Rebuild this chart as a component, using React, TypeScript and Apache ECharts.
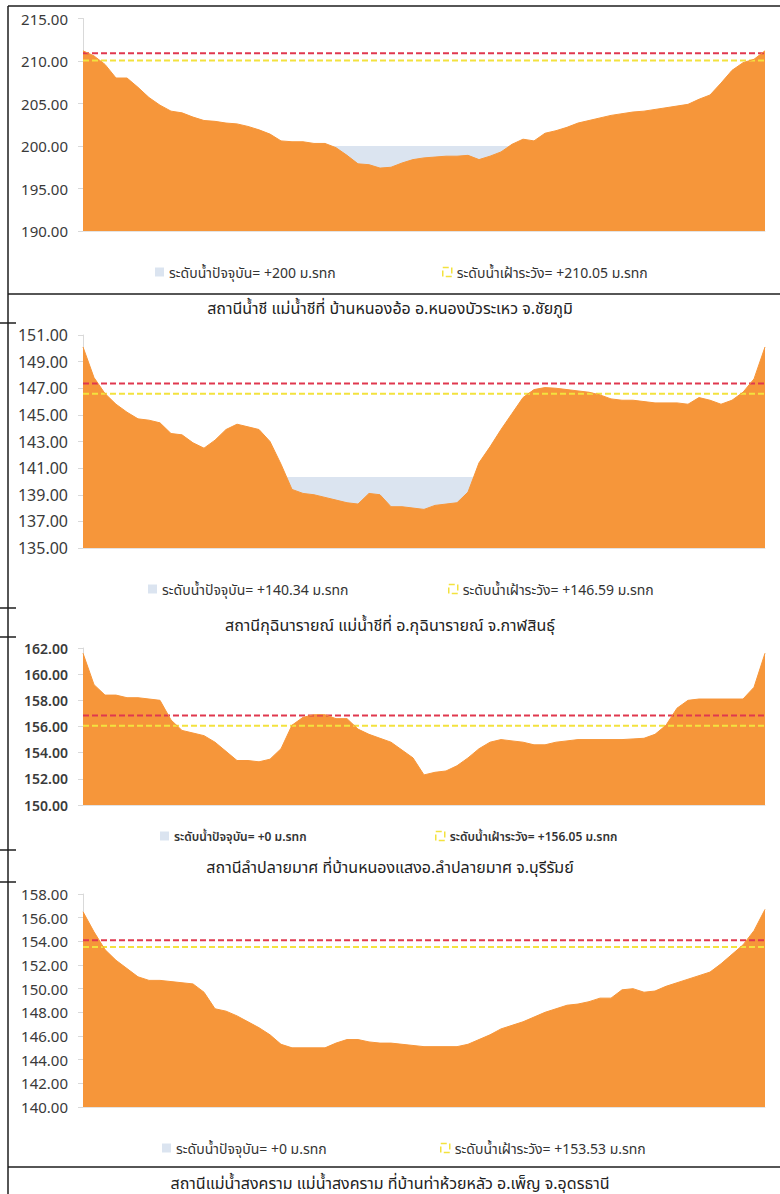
import React, { useEffect, useRef } from "react";
import * as echarts from "echarts";

// ---------- data ----------
const terrain1 = [
  211.2, 210.6, 209.6, 208.0, 208.0, 206.9, 205.7, 204.8, 204.1, 203.9, 203.4, 203.0, 202.9, 202.7, 202.6, 202.3,
  201.9, 201.4, 200.6, 200.5, 200.5, 200.3, 200.3, 199.8, 198.9, 197.9, 197.8, 197.4, 197.5, 198.0, 198.4, 198.6,
  198.7, 198.8, 198.8, 198.9, 198.4, 198.8, 199.3, 200.2, 200.8, 200.6, 201.5, 201.8, 202.2, 202.7, 203.0, 203.3,
  203.6, 203.8, 204.0, 204.1, 204.3, 204.5, 204.7, 204.9, 205.5, 206.0, 207.4, 208.9, 209.8, 210.2, 211.2,
];
const terrain2 = [
  150.1, 147.8, 146.6, 145.8, 145.2, 144.7, 144.6, 144.4, 143.6, 143.5, 142.9, 142.5, 143.1, 143.9, 144.3, 144.1,
  143.9, 143.0, 141.3, 139.4, 139.1, 139.0, 138.8, 138.6, 138.4, 138.3, 139.1, 139.0, 138.1, 138.1, 138.0, 137.9,
  138.2, 138.3, 138.4, 139.2, 141.4, 142.6, 143.9, 145.1, 146.3, 146.9, 147.05, 147.0, 146.9, 146.8, 146.7, 146.5,
  146.2, 146.1, 146.1, 146.0, 145.9, 145.9, 145.9, 145.8, 146.3, 146.1, 145.8, 146.1, 146.7, 147.7, 150.1,
];
const terrain3 = [
  161.6, 159.2, 158.4, 158.4, 158.2, 158.2, 158.1, 158.0, 156.5, 155.7, 155.5, 155.3, 154.8, 154.1, 153.4, 153.4,
  153.3, 153.5, 154.3, 156.1, 156.7, 156.9, 156.9, 156.6, 156.6, 155.8, 155.4, 155.1, 154.8, 154.2, 153.6, 152.3,
  152.5, 152.6, 153.0, 153.6, 154.3, 154.8, 155.0, 154.9, 154.8, 154.6, 154.6, 154.8, 154.9, 155.0, 155.0, 155.0,
  155.0, 155.0, 155.05, 155.1, 155.4, 156.1, 157.4, 158.0, 158.1, 158.1, 158.1, 158.1, 158.1, 159.0, 161.6,
];
const terrain4 = [
  156.5, 154.8, 153.3, 152.4, 151.7, 151.0, 150.7, 150.7, 150.6, 150.5, 150.4, 149.7, 148.3, 148.1, 147.7, 147.2,
  146.7, 146.1, 145.3, 145.0, 145.0, 145.0, 145.0, 145.4, 145.7, 145.7, 145.5, 145.4, 145.4, 145.3, 145.2, 145.1,
  145.1, 145.1, 145.1, 145.3, 145.7, 146.1, 146.6, 146.9, 147.2, 147.6, 148.0, 148.3, 148.6, 148.7, 148.9, 149.2,
  149.2, 149.9, 150.0, 149.7, 149.8, 150.2, 150.5, 150.8, 151.1, 151.4, 152.1, 152.9, 153.7, 154.9, 156.7,
];

const waterLevels = [200, 140.34, 0, 0];
const watchLevels = [210.05, 146.59, 156.05, 153.53];
const bankLevels = [210.9, 147.35, 156.85, 154.1];

const ticks1 = [190, 195, 200, 205, 210, 215];
const ticks2 = [135, 137, 139, 141, 143, 145, 147, 149, 151];
const ticks3 = [150, 152, 154, 156, 158, 160, 162];
const ticks4 = [140, 142, 144, 146, 148, 150, 152, 154, 156, 158];

const waterNames = [
  "ระดับน้ำปัจจุบัน= +200 ม.รทก",
  "ระดับน้ำปัจจุบัน= +140.34 ม.รทก",
  "ระดับน้ำปัจจุบัน= +0 ม.รทก",
  "ระดับน้ำปัจจุบัน= +0 ม.รทก ",
];
const watchNames = [
  "ระดับน้ำเฝ้าระวัง= +210.05 ม.รทก",
  "ระดับน้ำเฝ้าระวัง= +146.59 ม.รทก",
  "ระดับน้ำเฝ้าระวัง= +156.05 ม.รทก",
  "ระดับน้ำเฝ้าระวัง= +153.53 ม.รทก",
];
const captions = [
  "สถานีน้ำชี แม่น้ำชีที่ บ้านหนองอ้อ อ.หนองบัวระเหว จ.ชัยภูมิ",
  "สถานีกุฉินารายณ์ แม่น้ำชีที่ อ.กุฉินารายณ์ จ.กาฬสินธุ์",
  "สถานีลำปลายมาศ ที่บ้านหนองแสงอ.ลำปลายมาศ จ.บุรีรัมย์",
  "สถานีแม่น้ำสงคราม แม่น้ำสงคราม ที่บ้านท่าห้วยหลัว อ.เพ็ญ จ.อุดรธานี",
];

// ---------- styles ----------
const ORANGE = "#F6963A";
const WATER = "#DBE4F0";
const RED = "#E0384F";
const YELLOW = "#F3E23E";
const FONT = "'Noto Sans', 'Noto Sans Thai', Loma, Garuda, 'Open Sans', sans-serif";

const terrains = [terrain1, terrain2, terrain3, terrain4];
const ticks = [ticks1, ticks2, ticks3, ticks4];
const grids = [
  { left: 83, top: 18.5, width: 682, height: 212.5 },
  { left: 83, top: 335, width: 682, height: 213 },
  { left: 83, top: 648, width: 682, height: 157 },
  { left: 83, top: 894, width: 682, height: 213 },
];
const legendTops = [260, 577, 825, 1136];
const legendLeft1 = [150, 143, 155, 157];
const legendLeft2 = [437, 443, 430, 435];
const legendFont = [14, 14, 12, 14];
const labelFont = [15, 16, 14, 15];
const captionY = [308, 625, 867, 1183];

export default function App() {
  const ref = useRef<HTMLDivElement>(null);
  useEffect(() => {
    if (!ref.current) return;
    const chart = echarts.init(ref.current, undefined, { renderer: "svg" });
    const xAxis: any[] = [];
    const yAxis: any[] = [];
    const series: any[] = [];
    const legend: any[] = [];
    terrains.forEach((terrain, k) => {
      const cats = terrain.map((_, i) => String(i + 1));
      const tk = ticks[k];
      xAxis.push({
        type: "category",
        gridIndex: k,
        data: cats,
        boundaryGap: false,
        axisLabel: { show: false },
        axisTick: { show: false },
        axisLine: { show: true, lineStyle: { color: "#E3E3E3", width: 1 } },
        splitLine: { show: false },
      });
      yAxis.push({
        type: "value",
        gridIndex: k,
        min: tk[0],
        max: tk[tk.length - 1],
        interval: tk[1] - tk[0],
        axisLine: { show: true, lineStyle: { color: "#D9D9D9", width: 1 } },
        axisTick: { show: true, length: 5, lineStyle: { color: "#D9D9D9" }, customValues: tk },
        splitLine: { show: false },
        axisLabel: {
          customValues: tk,
          margin: 15,
          color: "#3A3A3A",
          fontSize: labelFont[k],
          fontWeight: k === 2 ? 600 : 400,
          fontFamily: FONT,
          formatter: (v: number) => v.toFixed(2),
        },
      });
      series.push({
        name: waterNames[k],
        type: "line",
        xAxisIndex: k,
        yAxisIndex: k,
        data: terrain.map(() => waterLevels[k]),
        symbol: "none",
        lineStyle: { width: 0 },
        itemStyle: { color: WATER },
        areaStyle: { color: WATER, opacity: 1, origin: "start" },
        silent: true,
      });
      series.push({
        name: "ระดับตลิ่ง" + k,
        type: "line",
        xAxisIndex: k,
        yAxisIndex: k,
        data: terrain.map(() => bankLevels[k]),
        symbol: "none",
        lineStyle: { color: RED, width: 2, type: [6, 3] },
        itemStyle: { color: RED },
        silent: true,
      });
      series.push({
        name: watchNames[k],
        type: "line",
        xAxisIndex: k,
        yAxisIndex: k,
        data: terrain.map(() => watchLevels[k]),
        symbol: "none",
        lineStyle: { color: YELLOW, width: 2, type: [6, 3] },
        itemStyle: { color: YELLOW },
        silent: true,
      });
      series.push({
        name: "รูปตัดลำน้ำ" + k,
        type: "line",
        xAxisIndex: k,
        yAxisIndex: k,
        data: terrain,
        symbol: "none",
        lineStyle: { color: ORANGE, width: 1 },
        itemStyle: { color: ORANGE },
        areaStyle: { color: ORANGE, opacity: 1, origin: "start" },
        silent: true,
      });
      const ts = { fontSize: legendFont[k], color: "#333333", fontFamily: FONT, fontWeight: k === 2 ? 600 : 400 };
      legend.push({
        left: legendLeft1[k],
        top: legendTops[k],
        itemWidth: 9,
        itemHeight: 9,
        selectedMode: false,
        textStyle: ts,
        data: [{ name: waterNames[k], icon: "rect", itemStyle: { color: WATER } }],
      });
      legend.push({
        left: legendLeft2[k],
        top: legendTops[k],
        itemWidth: 9,
        itemHeight: 9,
        selectedMode: false,
        textStyle: ts,
        data: [
          {
            name: watchNames[k],
            icon: "rect",
            itemStyle: { color: "#FFFFFF", borderColor: YELLOW, borderWidth: 1.5, borderType: "dashed" },
          },
        ],
      });
    });

    const lineStyle = { stroke: "#1E1E1E", lineWidth: 1.5 };
    const hLines = [
      { x1: 8, y: 6, x2: 780 },
      { x1: 8, y: 294, x2: 780 },
      { x1: 8, y: 1167, x2: 780 },
      { x1: 0, y: 323, x2: 16 },
      { x1: 0, y: 608, x2: 16 },
      { x1: 0, y: 637, x2: 16 },
      { x1: 0, y: 850, x2: 16 },
      { x1: 0, y: 882, x2: 16 },
    ];
    const graphic: any[] = [
      { type: "line", shape: { x1: 8, y1: 6, x2: 8, y2: 1194 }, style: lineStyle, silent: true },
      ...hLines.map((l) => ({
        type: "line",
        shape: { x1: l.x1, y1: l.y, x2: l.x2, y2: l.y },
        style: lineStyle,
        silent: true,
      })),
      ...captions.map((c, k) => ({
        type: "text",
        x: 390,
        y: captionY[k],
        silent: true,
        style: {
          text: c,
          fill: "#222222",
          font: `16px ${FONT}`,
          textAlign: "center",
          textVerticalAlign: "middle",
        },
      })),
    ];

    chart.setOption({
      animation: false,
      backgroundColor: "#FFFFFF",
      grid: grids,
      xAxis,
      yAxis,
      series,
      legend,
      graphic,
    });
    return () => chart.dispose();
  }, []);
  return (
    <div
      ref={ref}
      style={{ position: "absolute", left: 0, top: 0, width: 780, height: 1194, background: "#fff" }}
    />
  );
}
